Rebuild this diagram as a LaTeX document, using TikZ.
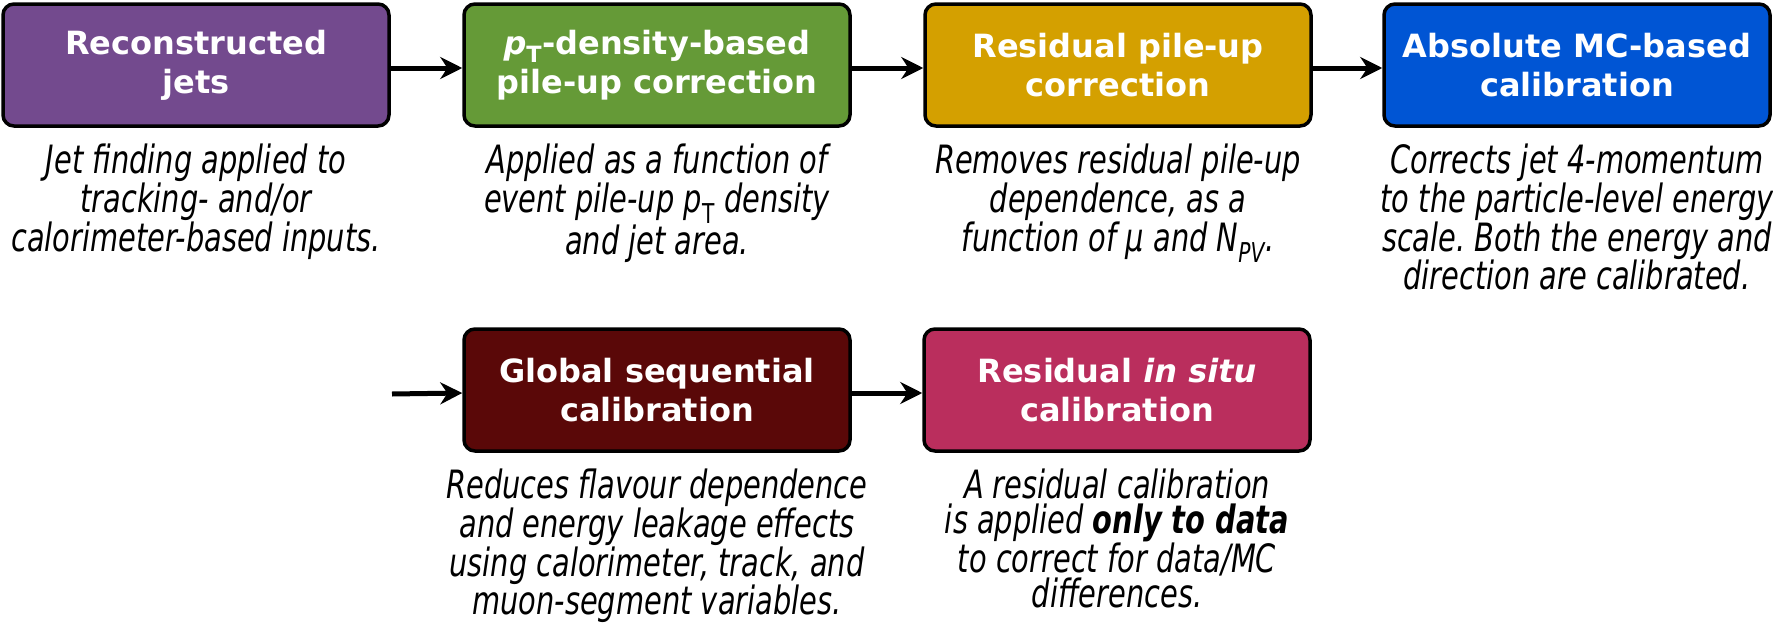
\documentclass[tikz,border=0pt]{standalone}
\usepackage{fontspec}
\setmainfont{DejaVu Sans}
\newfontfamily\descfont[FakeStretch=0.74]{DejaVu Sans}
\usetikzlibrary{arrows.meta,positioning}
\frenchspacing

\definecolor{recopurple}{HTML}{734A8E}
\definecolor{rhogreen}{HTML}{659A37}
\definecolor{resgold}{HTML}{D4A000}
\definecolor{mcblue}{HTML}{0055D4}
\definecolor{gscred}{HTML}{5A0808}
\definecolor{insitured}{HTML}{BA2E5D}

\tikzset{
  stage/.style={draw=black,line width=3.5pt,rounded corners=11pt,fill=#1,
    text=white,minimum width=386pt,minimum height=122pt,align=center,
    font=\fontsize{32}{39}\selectfont\bfseries},
  desc/.style={below=16pt of #1,align=center,inner sep=0pt,
    font=\descfont\fontsize{39}{35}\selectfont\itshape},
  flow/.style={line width=5pt,-{Stealth[length=22pt,width=22pt]}}
}

\begin{document}
\begin{tikzpicture}[x=1pt,y=-1pt]
 \useasboundingbox (0,0) rectangle (1773,624);

 % first row
 \node[stage=recopurple] (reco) at (196,65) {Reconstructed\\jets};
 \node[stage=rhogreen] (rho) at (657,65)
   {{\itshape p}\textsubscript{\upshape T}-density-based\\pile-up correction};
 \node[stage=resgold] (respu) at (1118,65) {Residual pile-up\\correction};
 \node[stage=mcblue] (mcjes) at (1577,65) {Absolute MC-based\\calibration};

 \node[desc=reco] (recotxt)
   {Jet finding applied to\\tracking- and/or\\calorimeter-based inputs.};
 \node[desc=rho] (rhotxt)
   {Applied as a function of\\event pile-up p\textsubscript{\upshape T} density\\and jet area.};
 \node[desc=respu] (resputxt)
   {Removes residual pile-up\\dependence, as a\\function of μ and N\textsubscript{PV}.};
 \node[desc=mcjes] (mcjestxt)
   {Corrects jet 4-momentum\\to the particle-level energy\\scale. Both the energy and\\direction are calibrated.};

 % second row
 \node[stage=gscred] (gsc) at (657,390) {Global sequential\\calibration};
 \node[stage=insitured] (insitu) at (1117,390) {Residual \textit{in situ}\\calibration};

 \node[desc=gsc] (gsctxt)
   {Reduces flavour dependence\\and energy leakage effects\\using calorimeter, track, and\\muon-segment variables.};
 \node[desc=insitu] (insitutxt)
   {A residual calibration\\is applied \textbf{only to data}\\to correct for data/MC\\differences.};

 % arrows
 \draw[flow] ([yshift=-3pt]reco.east) -- ([yshift=-3pt]rho.west);
 \draw[flow] ([yshift=-3pt]rho.east) -- ([yshift=-3pt]respu.west);
 \draw[flow] ([yshift=-3pt]respu.east) -- ([yshift=-3pt]mcjes.west);
 \coordinate (gscin) at (392,394);
 \draw[flow] (gscin) -- ([yshift=-3pt]gsc.west);
 \draw[flow] ([yshift=-3pt]gsc.east) -- ([yshift=-3pt]insitu.west);
\end{tikzpicture}
\end{document}
